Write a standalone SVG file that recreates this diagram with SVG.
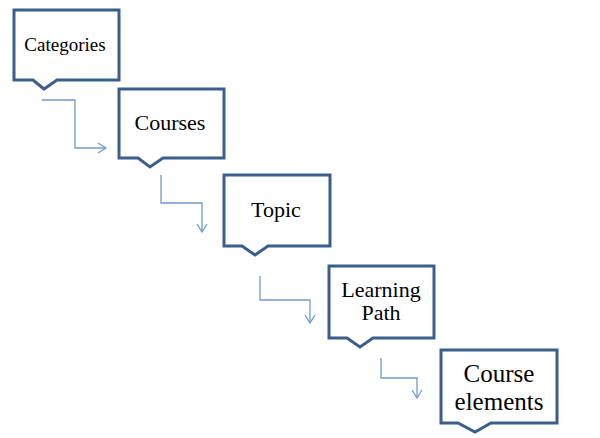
<svg xmlns="http://www.w3.org/2000/svg" width="600" height="438" viewBox="0 0 600 438">
<defs>
<style>
.box{fill:#fff;stroke:#3b5e8c;stroke-width:3;stroke-linejoin:miter}
.lbl{font-family:"Liberation Serif","DejaVu Serif",serif;fill:#000;text-anchor:middle}
.con{fill:none;stroke:#6f9bd1;stroke-width:1.3}
</style>
<marker id="arr" markerWidth="12" markerHeight="12" refX="9" refY="6" orient="auto" markerUnits="userSpaceOnUse">
<path d="M1,1 L9,6 L1,11" fill="none" stroke="#6f9bd1" stroke-width="1.3"/>
</marker>
</defs>
<rect width="600" height="438" fill="#fff"/>
<g id="connectors">
<path class="con" d="M42,100 H75 V148 H106" marker-end="url(#arr)"/>
<path class="con" d="M161,175 V203 H202 V232" marker-end="url(#arr)"/>
<path class="con" d="M260,276 V300 H310 V323" marker-end="url(#arr)"/>
<path class="con" d="M381,358 V378 H417 V398" marker-end="url(#arr)"/>
</g>
<g id="categories">
<path class="box" d="M14,10 H119 V80 H57 L44,89 L33,80 H14 Z"/>
<text class="lbl" x="65" y="51" font-size="19">Categories</text>
</g>
<g id="courses">
<path class="box" d="M119,89 H224 V158 H163 L150,167 L138,158 H119 Z"/>
<text class="lbl" x="170" y="130" font-size="22">Courses</text>
</g>
<g id="topic">
<path class="box" d="M224,175 H330 V246 H268 L255,255 L242,246 H224 Z"/>
<text class="lbl" x="276" y="217" font-size="22">Topic</text>
</g>
<g id="learning-path">
<path class="box" d="M329,266 H434 V338 H373 L360,347 L347,338 H329 Z"/>
<text class="lbl" x="381" y="297" font-size="22">Learning</text>
<text class="lbl" x="381" y="320" font-size="22">Path</text>
</g>
<g id="course-elements">
<path class="box" d="M441,350 H557 V423 H491 L475,432 L458,423 H441 Z"/>
<text class="lbl" x="499" y="382" font-size="25">Course</text>
<text class="lbl" x="499" y="410" font-size="25">elements</text>
</g>
</svg>
